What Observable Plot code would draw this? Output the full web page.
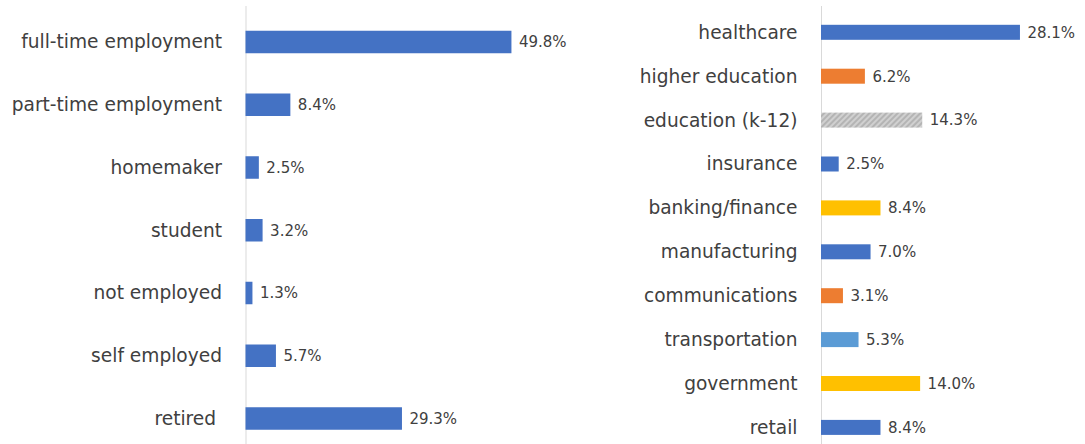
<!DOCTYPE html>
<html>
<head>
<meta charset="utf-8">
<script src="https://cdn.jsdelivr.net/npm/d3@7"></script>
<script src="https://cdn.jsdelivr.net/npm/@observablehq/plot@0.6"></script>
<style>
  html, body { margin: 0; padding: 0; background: #fff; }
  #wrap { display: flex; width: 1085px; height: 444px; overflow: hidden; }
  #wrap svg { display: block; }
</style>
</head>
<body>
<div id="wrap"></div>
<script>
// ---- data ----
const statusCategories = ["full-time employment", "part-time employment", "homemaker", "student", "not employed", "self employed", "retired "];
const statusValues = [49.8, 8.4, 2.5, 3.2, 1.3, 5.7, 29.3];

const industryCategories = ["healthcare", "higher education", "education (k-12)", "insurance", "banking/finance", "manufacturing", "communications", "transportation", "government", "retail"];
const industryValues = [28.1, 6.2, 14.3, 2.5, 8.4, 7.0, 3.1, 5.3, 14.0, 8.4];

// ---- styles ----
const industryPalette = ["#4472C4", "#ED7D31", "url(#hatch)", "#4472C4", "#FFC000", "#4472C4", "#ED7D31", "#5B9BD5", "#FFC000", "#4472C4"];
const FONT = "'DejaVu Sans', sans-serif";
const TEXT = "#404040";

const statusData = statusCategories.map((c, i) => ({category: c, value: statusValues[i]}));
const industryData = industryCategories.map((c, i) => ({category: c, value: industryValues[i]}));
const fmt = v => v.toFixed(1) + "%";

function panel({data, categories, width, axisX, pxPer, top, step, barH, labelSize, valueSize, fills}) {
  const n = categories.length;
  const pi = 1 - barH / step;
  return Plot.plot({
    width,
    height: 444,
    marginTop: 6,
    marginBottom: 0,
    marginLeft: axisX,
    marginRight: 0,
    style: {fontFamily: FONT, color: TEXT, background: "transparent", overflow: "visible"},
    x: {domain: [0, 50], range: [axisX, axisX + 50 * pxPer], axis: null},
    y: {domain: categories, range: [top - step / 2, top - step / 2 + n * step], paddingInner: pi, paddingOuter: pi / 2, round: false, axis: null},
    color: fills ? {domain: categories, range: fills} : undefined,
    marks: [
      Plot.ruleX([0], {stroke: "#d9d9d9", strokeWidth: 1}),
      Plot.barX(data, {y: "category", x: "value", fill: fills ? "category" : "#4472C4"}),
      Plot.text(data, {y: "category", x: "value", text: d => fmt(d.value), dx: 7, textAnchor: "start", fontSize: valueSize, fill: TEXT}),
      Plot.text(data, {y: "category", x: 0, text: "category", dx: -24, textAnchor: "end", fontSize: labelSize, fill: TEXT})
    ]
  });
}

const left = panel({data: statusData, categories: statusCategories, width: 540, axisX: 245.5, pxPer: 5.34, top: 42, step: 62.75, barH: 22.5, labelSize: 18.6, valueSize: 15});
const right = panel({data: industryData, categories: industryCategories, width: 545, axisX: 281, pxPer: 7.08, top: 32.3, step: 43.9, barH: 15, labelSize: 18.6, valueSize: 15, fills: industryPalette});

// hatch pattern for education (k-12)
const defs = d3.select(right).insert("defs", ":first-child");
const pat = defs.append("pattern").attr("id", "hatch").attr("patternUnits", "userSpaceOnUse")
  .attr("width", 4).attr("height", 4).attr("patternTransform", "rotate(45)");
pat.append("rect").attr("width", 4).attr("height", 4).attr("fill", "#d0d0d0");
pat.append("rect").attr("width", 2).attr("height", 4).attr("fill", "#b4b4b4");

document.getElementById("wrap").append(left, right);
</script>
</body>
</html>
